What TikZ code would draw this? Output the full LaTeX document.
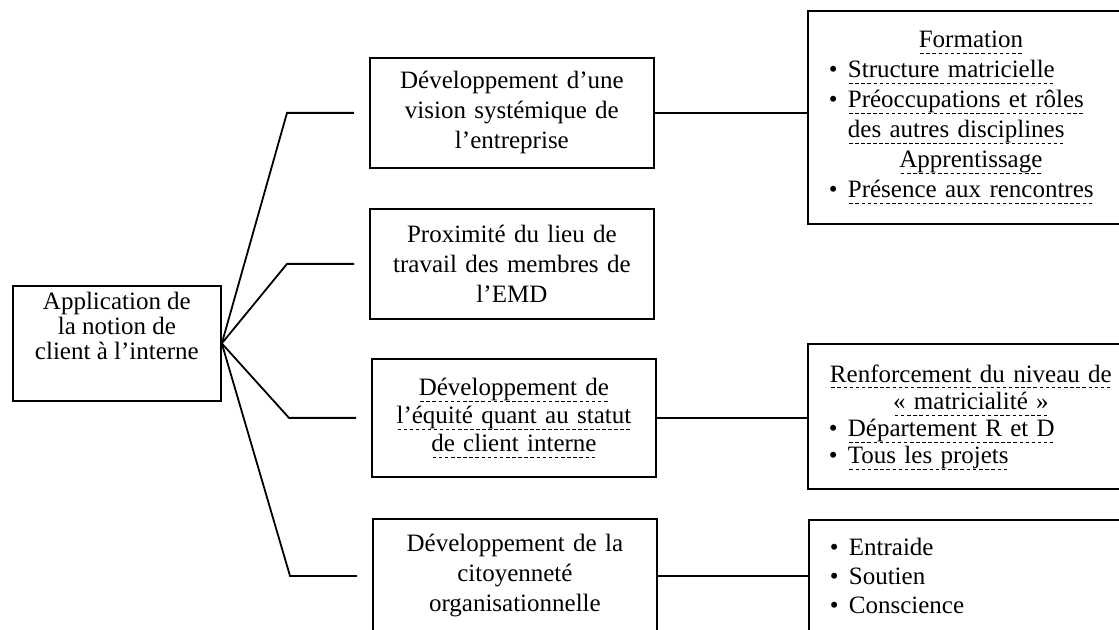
\documentclass[tikz,border=0pt]{standalone}
\usepackage{fontspec}
\setmainfont{Liberation Serif}
\newcommand\dul[1]{\leavevmode\setbox0\hbox{#1}\rlap{\hbox to \wd0{\xleaders\hbox{\kern.05em\vrule width .14em height -2.6pt depth 3.05pt\kern.05em}\hfill}}\box0}
\newcommand\bul[1]{\par\noindent\makebox[9.5pt][l]{\textbullet}#1\par}
\newcommand\cont[1]{\par\noindent\hspace*{9.5pt}#1\par}
\newcommand\hd[1]{\par\centerline{#1}}
\newcommand\gap[1]{\par\nointerlineskip\vbox to #1{}}

\begin{document}
\begin{tikzpicture}[x=0.5pt,y=-0.5pt,line width=0.9pt,
    every node/.style={font=\fontsize{12.5}{15}\selectfont},
    mid node/.style={draw,anchor=north west,minimum width=142pt,text width=130pt,align=center},
    list node/.style={draw,anchor=north west,inner xsep=10.5pt,text width=142pt}]
  \path[use as bounding box,clip] (0,0) rectangle (1119,630);

  \node[draw,anchor=north west,minimum width=104pt,minimum height=57.5pt] (root) at (12,285) {};
  \node[font=\fontsize{12.5}{12.3}\selectfont,align=center] (rootlbl) at ([yshift=8.75pt]root.center)
    {Application de\\la notion de\\client à l'interne};

  \node[mid node,minimum height=55pt] (vis) at (369,57) {Développement d'une\\vision systémique de\\l'entreprise};
  \node[mid node,minimum height=55pt] (prox) at (369,208) {Proximité du lieu de\\travail des membres de\\l'EMD};
  \node[mid node,minimum height=59pt,font=\fontsize{12.5}{14}\selectfont] (equi) at (371,358)
    {\dul{Développement de}\\\dul{l'équité quant au statut}\\\dul{de client interne}};
  \node[mid node,minimum height=57pt] (cito) at (372,518) {Développement de la\\citoyenneté\\organisationnelle};

  \node[list node,minimum height=101.5pt] (form) at (807,10) {%
    \hd{\dul{Formation}}
    \bul{\dul{Structure matricielle}}
    \bul{\dul{Préoccupations et rôles}}
    \cont{\dul{des autres disciplines}}
    \hd{\dul{Apprentissage}}
    \bul{\dul{Présence aux rencontres}}\gap{7pt}};
  \node[list node,minimum height=72.5pt,font=\fontsize{12.5}{13.6}\selectfont] (renf) at (807,343) {%
    \hd{\dul{Renforcement du niveau de}}
    \hd{\dul{«~matricialité~»}}
    \bul{\dul{Département R et D}}
    \bul{\dul{Tous les projets}}\gap{4pt}};
  \node[list node,minimum height=54.5pt,font=\fontsize{12.5}{14.5}\selectfont] (soc) at (808,519) {%
    \bul{Entraide}
    \bul{Soutien}
    \bul{Conscience}\gap{6pt}};

  % branches from the root
  \foreach \n in {vis,prox,equi,cito}
    \draw[shorten >=7.5pt] (root.east) -- ([xshift=-41pt]\n.west) -- (\n.west);

  \draw (vis.east) -- (vis.east -| form.west);
  \draw (equi.east) -- (equi.east -| renf.west);
  \draw (cito.east) -- (cito.east -| soc.west);
\end{tikzpicture}
\end{document}
